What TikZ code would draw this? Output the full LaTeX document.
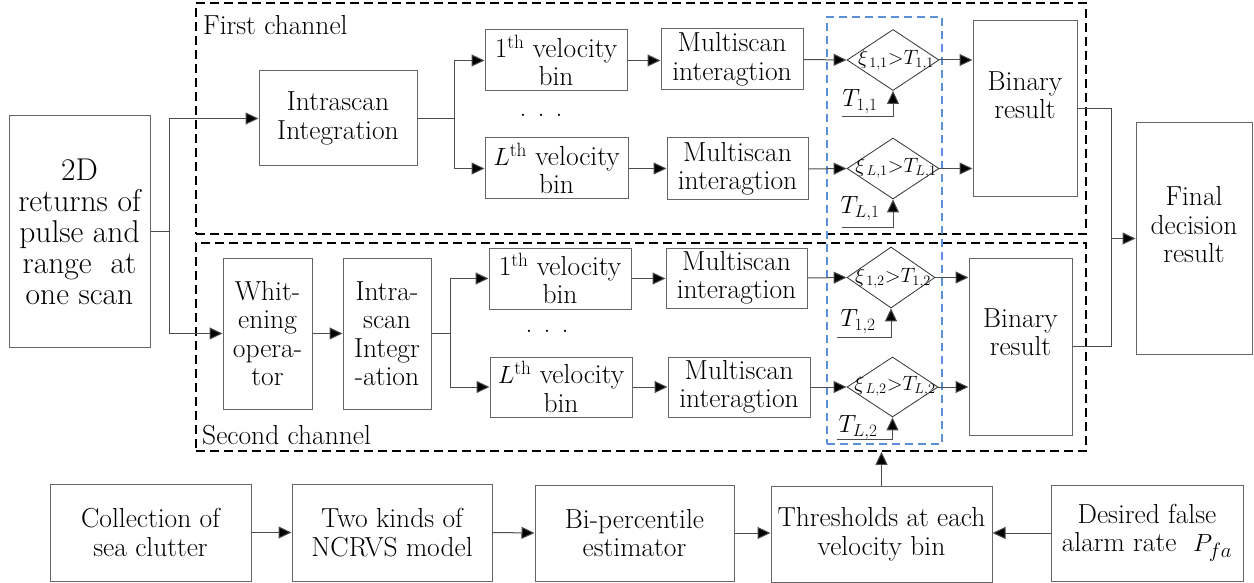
\documentclass[tikz,border=0pt]{standalone}
\usetikzlibrary{arrows.meta,shapes.geometric}
\definecolor{boxc}{gray}{0.40}
\definecolor{lnc}{gray}{0.30}
\definecolor{blueln}{HTML}{5B8FD9}
\newcommand\mainsz{\fontsize{27.5}{28.5}\selectfont}
\newcommand\bigsz{\fontsize{31.5}{31}\selectfont}
\newcommand\dsz{\fontsize{21}{24}\selectfont}
\newcommand\tsz{\fontsize{23}{24}\selectfont}
\begin{document}
\begin{tikzpicture}[x=1pt,y=-1pt,
  blk/.style={draw=boxc, line width=1pt, rectangle, inner sep=0pt, align=center, font=\mainsz},
  txt/.style={inner sep=0pt, align=center, font=\mainsz},
  lbl/.style={inner sep=0pt, font=\mainsz},
  dtxt/.style={inner sep=0pt, font=\dsz},
  ttxt/.style={inner sep=0pt, font=\tsz},
  dia/.style={draw=black!80, shape=diamond, line width=0.8pt, inner sep=0pt},
  conn/.style={draw=lnc, line width=1pt},
  arr/.style={draw=lnc, line width=1pt, -{Triangle[length=13pt,width=12pt,fill=black]}},
  chan/.style={draw=black, line width=1.6pt, dash pattern=on 9pt off 5pt, inner sep=0pt},
  bluebox/.style={draw=blueln, line width=1.4pt, dash pattern=on 8pt off 5pt, inner sep=0pt}]
\useasboundingbox (0,0) rectangle (1254,583);

% channel frames and threshold zone
\node[chan, minimum width=890pt, minimum height=231pt] (ch1) at (641,118.5) {};
\node[chan, minimum width=890pt, minimum height=208pt] (ch2) at (641,347) {};
\node[bluebox, minimum width=115pt, minimum height=427pt] (thrzone) at (884.5,230.5) {};
\node[lbl, anchor=west] (ch1lbl) at (203,25) {First channel};
\node[lbl, anchor=west] (ch2lbl) at (202,435) {Second channel};

% input
\node[blk, font=\bigsz, minimum width=141pt, minimum height=231pt] (src) at (79.5,231.5)
  {2D\\returns of\\pulse and\\range~ at\\one scan};

% first channel
\node[blk, minimum width=158pt, minimum height=95pt] (intra1) at (338,118.5) {Intrascan\\Integration};
\node[blk, minimum width=142pt, minimum height=61pt] (v11) at (556,60.5) {1\textsuperscript{th} velocity\\bin};
\node[blk, minimum width=143pt, minimum height=61pt] (vL1) at (556.5,168.5) {$L$\textsuperscript{th} velocity\\bin};
\node[lbl] (dots1) at (541,115) {. . .};
\node[blk, minimum width=142pt, minimum height=61pt] (m11) at (732,59.5) {Multiscan\\interagtion};
\node[blk, minimum width=141pt, minimum height=62pt] (mL1) at (737.5,169) {Multiscan\\interagtion};
\node[dia, minimum width=92pt, minimum height=61pt] (d11) at (893,60) {};
\node[dia, minimum width=92pt, minimum height=61pt] (dL1) at (893,168.5) {};
\node[dtxt] (d11t) at (896,60) {$\xi_{\,1,1}{>}T_{1,1}$};
\node[dtxt] (dL1t) at (896,168) {$\xi_{\,L,1}{>}T_{L,1}$};
\node[ttxt] (t11) at (860,102) {$T_{1,1}$};
\node[ttxt] (tL1) at (860,209) {$T_{L,1}$};
\coordinate (t11s) at (842,117);
\coordinate (tL1s) at (842,227);
\node[blk, minimum width=104pt, minimum height=176pt] (b1) at (1025,109) {};
\node[txt] (b1t) at (1025,95) {Binary\\result};

% second channel
\node[blk, minimum width=89pt, minimum height=151pt] (wht) at (267.5,333.5) {Whit-\\ening\\opera-\\tor};
\node[blk, minimum width=88pt, minimum height=151pt] (intra2) at (387,333.5) {Intra-\\scan\\Integr\\-ation};
\node[blk, minimum width=142pt, minimum height=61pt] (v12) at (560,278.5) {1\textsuperscript{th} velocity\\bin};
\node[blk, minimum width=142pt, minimum height=60pt] (vL2) at (561,387) {$L$\textsuperscript{th} velocity\\bin};
\node[lbl] (dots2) at (547,331) {. . .};
\node[blk, minimum width=141pt, minimum height=60pt] (m12) at (736.5,278) {Multiscan\\interagtion};
\node[blk, minimum width=142pt, minimum height=60pt] (mL2) at (739,387) {Multiscan\\interagtion};
\node[dia, minimum width=88pt, minimum height=61pt] (d12) at (891,277.5) {};
\node[dia, minimum width=91pt, minimum height=60pt] (dL2) at (892.5,387) {};
\node[dtxt] (d12t) at (893,278) {$\xi_{\,1,2}{>}T_{1,2}$};
\node[dtxt] (dL2t) at (895,386) {$\xi_{\,L,2}{>}T_{L,2}$};
\node[ttxt] (t12) at (858,322) {$T_{1,2}$};
\node[ttxt] (tL2) at (858,428) {$T_{L,2}$};
\coordinate (t12s) at (837,337);
\coordinate (tL2s) at (837,439);
\node[blk, minimum width=103pt, minimum height=177pt] (b2) at (1020.5,346.5) {};
\node[txt] (b2t) at (1020.5,332) {Binary\\result};

% decision
\node[blk, minimum width=116pt, minimum height=231pt] (fin) at (1194,238.5) {};
\node[txt] (fint) at (1194,225) {Final\\decision\\result};

% threshold computation chain
\node[blk, minimum width=201pt, minimum height=97pt] (coll) at (150.5,532.5) {Collection of\\sea clutter};
\node[blk, minimum width=200pt, minimum height=97pt] (ncr) at (392,532.5) {Two kinds of\\NCRVS model};
\node[blk, minimum width=199pt, minimum height=96pt] (bip) at (634.5,533) {Bi-percentile\\estimator};
\node[blk, minimum width=221pt, minimum height=96pt] (thr) at (881.5,534) {Thresholds at each\\velocity bin};
\node[blk, minimum width=192pt, minimum height=96pt] (des) at (1147,533) {Desired false\\alarm rate~ $P_{fa}$};

% input split
\coordinate (sp0) at (169,231.5);
\draw[conn] (src.east) -- (sp0);
\draw[arr] (sp0) |- (intra1.west);
\draw[arr] (sp0) |- (wht.west);

% first channel connectors
\coordinate (sp1) at (454,118.5);
\draw[conn] (intra1.east) -- (sp1);
\draw[arr] (sp1) |- (v11.west);
\draw[arr] (sp1) |- (vL1.west);
\draw[arr] (v11.east) -- (v11.east -| m11.west);
\draw[arr] (vL1.east) -- (vL1.east -| mL1.west);
\draw[arr] (m11.east) -- (d11.west);
\draw[arr] (mL1.east) -- (dL1.west);
\draw[arr] (t11s) -| (d11.south);
\draw[arr] (tL1s) -| (dL1.south);
\draw[arr] (d11.east) -- (d11.east -| b1.west);
\draw[arr] (dL1.east) -- (dL1.east -| b1.west);

% second channel connectors
\draw[arr] (wht.east) -- (intra2.west);
\coordinate (sp2) at (450,333.5);
\draw[conn] (intra2.east) -- (sp2);
\draw[arr] (sp2) |- (v12.west);
\draw[arr] (sp2) |- (vL2.west);
\draw[arr] (v12.east) -- (v12.east -| m12.west);
\draw[arr] (vL2.east) -- (vL2.east -| mL2.west);
\draw[arr] (m12.east) -- (d12.west);
\draw[arr] (mL2.east) -- (dL2.west);
\draw[arr] (t12s) -| (d12.south);
\draw[arr] (tL2s) -| (dL2.south);
\draw[arr] (d12.east) -- (d12.east -| b2.west);
\draw[arr] (dL2.east) -- (dL2.east -| b2.west);

% merge to final decision
\coordinate (jn) at (1111,238.5);
\draw[conn] (b1.east) -| (jn);
\draw[conn] (b2.east) -| (jn);
\draw[arr] (jn) -- (fin.west);

% bottom chain
\draw[arr] (coll.east) -- (ncr.west);
\draw[arr] (ncr.east) -- (bip.west);
\draw[arr] (bip.east) -- (bip.east -| thr.west);
\draw[arr] (des.west) -- (des.west -| thr.east);
\draw[arr] (thr.north) -- (thr.north |- ch2.south);
\end{tikzpicture}
\end{document}
